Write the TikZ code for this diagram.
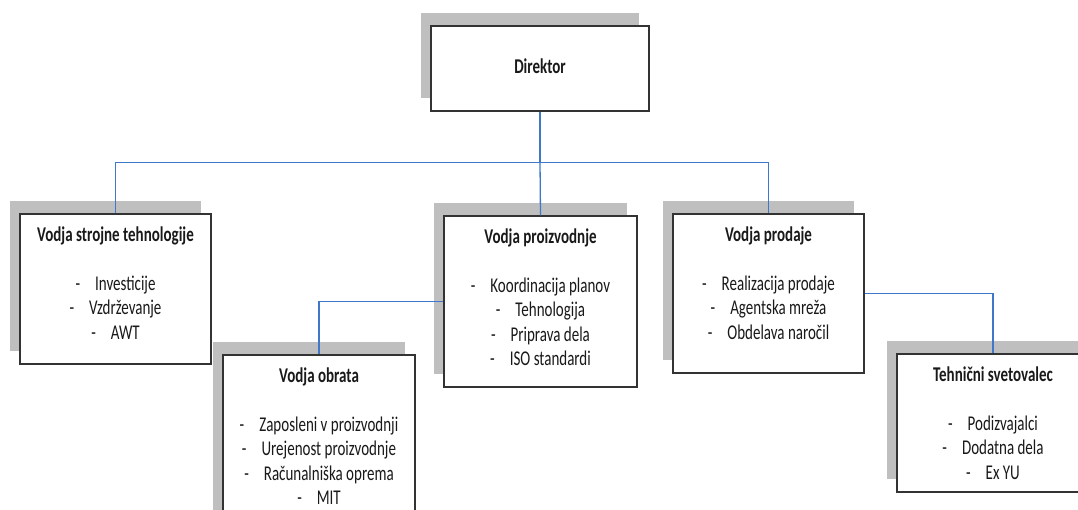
\documentclass[tikz,border=0pt]{standalone}
\usepackage{fontspec}
\setmainfont{Carlito}
\usepackage{graphicx}
\usetikzlibrary{positioning,shadows}
\definecolor{linkblue}{HTML}{3F78C9}
\definecolor{shadowgray}{HTML}{BFBFBF}
\newcommand{\talltxt}[1]{\scalebox{1}[1.4]{\begin{tabular}{@{}c@{}}#1\end{tabular}}}

\begin{document}
\begin{tikzpicture}[x=1pt,y=-1pt,
  box/.style={draw=black!80, line width=1.2pt, fill=white, inner sep=0pt,
    drop shadow={shadow xshift=-10pt, shadow yshift=13pt, fill=shadowgray, opacity=1}},
  txt/.style={inner sep=0pt, text=black!90, font=\fontsize{15}{17.5}\selectfont},
  conn/.style={draw=linkblue, line width=1.3pt}]
\clip (0,0) rectangle (1078,510);
\fill[white] (0,0) rectangle (1078,510);
% boxes
\node[box, minimum width=218pt, minimum height=85pt] (dir) at (540,68.5) {};
\node[box, minimum width=191pt, minimum height=150pt] (vst) at (115.5,289) {};
\node[box, minimum width=193pt, minimum height=171pt] (vp) at (540.5,301.5) {};
\node[box, minimum width=191pt, minimum height=159pt] (vpr) at (768.5,293.5) {};
\node[box, minimum width=192pt, minimum height=171pt] (vo) at (319,440.5) {};
\node[box, minimum width=192pt, minimum height=138pt] (ts) at (993,423) {};
% texts
\node[txt] (dirtxt) at (dir.center) {\talltxt{\textbf{Direktor}}};
\node[txt, below=10.5pt of vst.north] (vsttxt) {\talltxt{\textbf{Vodja strojne tehnologije}\\ \\
  -\quad Investicije\\ -\quad Vzdrževanje\\ -\quad AWT}};
\node[txt, below=10.5pt of vp.north] (vptxt) {\talltxt{\textbf{Vodja proizvodnje}\\ \\
  -\quad Koordinacija planov\\ -\quad Tehnologija\\ -\quad Priprava dela\\ -\quad ISO standardi}};
\node[txt, below=10.5pt of vpr.north] (vprtxt) {\talltxt{\textbf{Vodja prodaje}\\ \\
  -\quad Realizacija prodaje\\ -\quad Agentska mreža\\ -\quad Obdelava naročil}};
\node[txt, below=10.5pt of vo.north] (votxt) {\talltxt{\textbf{Vodja obrata}\\ \\
  -\quad Zaposleni v proizvodnji\\ -\quad Urejenost proizvodnje\\ -\quad Računalniška oprema\\ -\quad MIT}};
\node[txt, below=10.5pt of ts.north] (tstxt) {\talltxt{\textbf{Tehnični svetovalec}\\ \\
  -\quad Podizvajalci\\ -\quad Dodatna dela\\ -\quad Ex YU}};
% connectors
\coordinate (bus) at (540,162.5);
\draw[conn] (dir.south) -- (bus);
\draw[conn] (vst.north) |- (bus) -| (vpr.north);
\draw[conn] (bus) -- (vp.north);
\draw[conn] (vo.north) |- (vp.west);
\draw[conn] (vpr.east) -| (ts.north);
\end{tikzpicture}
\end{document}
